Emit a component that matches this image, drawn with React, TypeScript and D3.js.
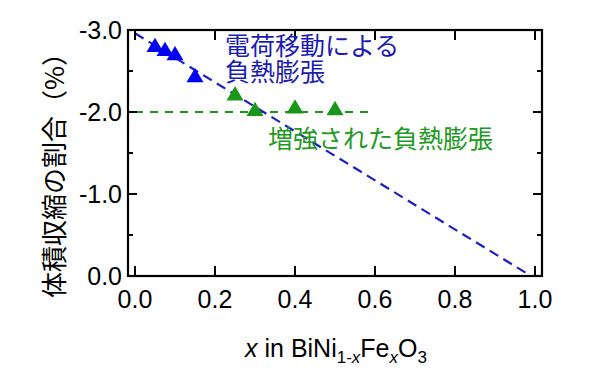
import React from 'react'
import * as d3 from 'd3'

// measured values (x = Fe fraction, y = volume shrinkage %)
const blueX = [0.05, 0.075, 0.1, 0.15]
const blueY = [-2.79, -2.74, -2.69, -2.42]
const greenX = [0.25, 0.3, 0.4, 0.5]
const greenY = [-2.2, -2.01, -2.04, -2.02]
const blueLineX = [0.0, 0.99]
const blueLineY = [-2.96, 0.0]
const greenLineX = [0.0, 0.6]
const greenLineY = [-2.0, -2.0]
const xTicks = [0, 0.2, 0.4, 0.6, 0.8, 1.0]
const yTicks = [-3, -2, -1, 0]
const yMinor = [-2.5, -1.5, -0.5]

const W = 610
const H = 372
const left = 128
const right = 542
const top = 30
const bottom = 276

const LATIN = "'Liberation Sans', Arial, sans-serif"
const CJK = "'Noto Sans CJK JP', 'Noto Sans CJK SC', sans-serif"
const BLUE = '#0000f0'
const BLUE_LINE = '#1f1fc0'
const BLUE_TEXT = '#1c1cb0'
const GREEN = '#1a961a'
const GREEN_TEXT = '#229922'

export default function App() {
  const x = d3.scaleLinear().domain([-0.0175, 1.0175]).range([left, right])
  const y = d3.scaleLinear().domain([0, -3]).range([bottom, top])

  const line = d3.line<[number, number]>()
    .x(d => x(d[0]))
    .y(d => y(d[1]))

  const tri = 'M0,-9.5L8.5,4.8L-8.5,4.8Z'
  const fmt = (v: number) => v.toFixed(1).replace('\u2212', '-')

  return (
    <svg width={W} height={H} style={{ position: 'absolute', left: 0, top: 0, background: '#fff' }}>
      {/* dashed guide lines */}
      <path d={line(greenLineX.map((v, i) => [v, greenLineY[i]]) as [number, number][]) || ''}
        fill="none" stroke={GREEN} strokeWidth={2.2} strokeDasharray="8,7" />
      <path d={line(blueLineX.map((v, i) => [v, blueLineY[i]]) as [number, number][]) || ''}
        fill="none" stroke={BLUE_LINE} strokeWidth={2.2} strokeDasharray="10,6" />

      {blueX.map((v, i) => (
        <path key={'b' + i} d={tri} fill={BLUE} transform={`translate(${x(v)},${y(blueY[i])})`} />
      ))}
      {greenX.map((v, i) => (
        <path key={'g' + i} d={tri} fill={GREEN} transform={`translate(${x(v)},${y(greenY[i])})`} />
      ))}

      {/* frame */}
      <rect x={left} y={top} width={right - left} height={bottom - top} fill="none" stroke="#000" strokeWidth={2.2} />

      {xTicks.map(t => (
        <g key={'xt' + t}>
          <line x1={x(t)} x2={x(t)} y1={bottom} y2={bottom - 10} stroke="#000" strokeWidth={2} />
          <line x1={x(t)} x2={x(t)} y1={top} y2={top + 10} stroke="#000" strokeWidth={2} />
          <text x={x(t)} y={308} textAnchor="middle" fontFamily={LATIN} fontSize={25}>{fmt(t)}</text>
        </g>
      ))}
      {yTicks.map(t => (
        <g key={'yt' + t}>
          <line x1={left} x2={left + 9} y1={y(t)} y2={y(t)} stroke="#000" strokeWidth={2} />
          <line x1={right} x2={right - 9} y1={y(t)} y2={y(t)} stroke="#000" strokeWidth={2} />
          <text x={122} y={y(t) + 8.5} textAnchor="end" fontFamily={LATIN} fontSize={25}>{fmt(t)}</text>
        </g>
      ))}
      {yMinor.map(t => (
        <g key={'ym' + t}>
          <line x1={left} x2={left + 5} y1={y(t)} y2={y(t)} stroke="#000" strokeWidth={2} />
          <line x1={right} x2={right - 5} y1={y(t)} y2={y(t)} stroke="#000" strokeWidth={2} />
        </g>
      ))}

      {/* annotations */}
      <text x={225} y={55} fontFamily={CJK} fontSize={25} fill={BLUE_TEXT}>電荷移動による</text>
      <text x={225} y={81} fontFamily={CJK} fontSize={25} fill={BLUE_TEXT}>負熱膨張</text>
      <text x={268} y={148} fontFamily={CJK} fontSize={25} fill={GREEN_TEXT}>増強された負熱膨張</text>

      {/* axis titles */}
      <text transform="translate(52,169) rotate(-90)" textAnchor="middle" dominantBaseline="central"
        fontFamily={CJK} fontSize={26}>体積収縮の割合（%）</text>
      <text x={336} y={357} textAnchor="middle" fontFamily={LATIN} fontSize={25}>
        <tspan fontStyle="italic">x</tspan> in BiNi
        <tspan fontSize={17} dy={6}>1-</tspan>
        <tspan fontSize={17} fontStyle="italic">x</tspan>
        <tspan dy={-6}>Fe</tspan>
        <tspan fontSize={17} fontStyle="italic" dy={6}>x</tspan>
        <tspan dy={-6}>O</tspan>
        <tspan fontSize={17} dy={6}>3</tspan>
      </text>
    </svg>
  )
}
